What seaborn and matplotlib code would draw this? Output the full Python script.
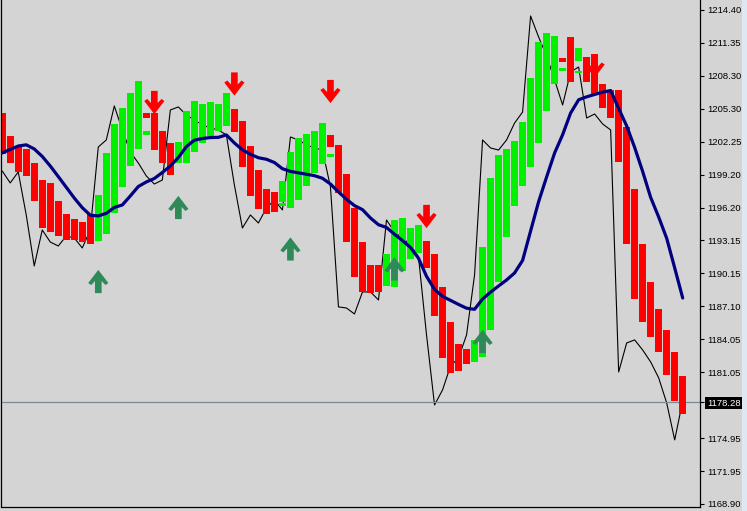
import numpy as np
import pandas as pd
import matplotlib.pyplot as plt
from matplotlib.path import Path
from matplotlib.patches import Rectangle
import seaborn as sns

# ---- data (one entry per bar) ----
ha_open = [1204.91, 1202.79, 1201.78, 1201.60, 1200.31, 1198.74, 1198.47, 1196.81, 1195.61, 1195.15,
           1194.87, 1195.61, 1193.12, 1193.77, 1195.70, 1198.10, 1200.03, 1201.60, 1204.91, 1204.91,
           1203.25, 1202.15, 1200.31, 1200.31, 1201.32, 1202.15, 1202.79, 1203.25, 1203.72, 1205.28,
           1204.18, 1201.87, 1199.66, 1197.91, 1197.64, 1196.72, 1196.16, 1196.90, 1198.19, 1199.39,
           1200.22, 1202.89, 1201.97, 1199.29, 1196.16, 1193.03, 1190.91, 1190.91, 1188.98, 1188.89,
           1190.36, 1191.47, 1192.02, 1193.12, 1191.93, 1188.89, 1185.66, 1183.64, 1183.18, 1181.98,
           1182.44, 1184.93, 1189.35, 1193.49, 1196.35, 1198.19, 1199.94, 1202.15, 1205.10, 1207.58,
           1209.98, 1211.91, 1209.70, 1210.07, 1210.35, 1207.58, 1207.03, 1207.03, 1203.62, 1197.91,
           1192.85, 1189.35, 1186.86, 1184.93, 1182.90, 1180.69]
ha_close = [1201.14, 1200.31, 1199.48, 1199.11, 1196.81, 1194.32, 1193.95, 1193.58, 1193.22, 1193.22,
            1193.03, 1192.85, 1197.36, 1201.23, 1203.90, 1205.37, 1206.75, 1207.86, 1204.45, 1201.50,
            1200.31, 1199.20, 1202.24, 1205.10, 1206.02, 1205.74, 1205.93, 1205.74, 1206.75, 1203.16,
            1199.94, 1197.27, 1196.07, 1195.61, 1195.79, 1198.65, 1201.32, 1202.61, 1202.98, 1203.25,
            1203.99, 1201.78, 1197.54, 1193.03, 1189.81, 1188.43, 1188.33, 1188.43, 1191.93, 1195.06,
            1195.24, 1194.32, 1194.60, 1190.64, 1186.22, 1182.35, 1180.97, 1181.15, 1181.80, 1184.01,
            1192.57, 1198.93, 1201.04, 1201.60, 1202.33, 1204.08, 1208.14, 1211.45, 1212.28, 1212.00,
            1209.61, 1207.77, 1210.90, 1207.77, 1206.66, 1205.37, 1204.45, 1200.40, 1192.85, 1187.78,
            1185.66, 1184.28, 1182.90, 1180.78, 1178.39, 1177.19]

# small extra green marks
doji_idx = [18, 35, 41, 70, 72]
doji_lo = [1202.89, 1196.35, 1200.86, 1208.78, 1208.55]
doji_hi = [1203.25, 1196.62, 1201.10, 1209.06, 1208.78]

close_line = [1199.57, 1198.47, 1199.48, 1195.52, 1190.82, 1194.14, 1193.03, 1192.66, 1193.58, 1193.40,
              1192.48, 1194.14, 1201.78, 1202.43, 1205.56, 1203.35, 1201.32, 1200.31, 1199.11, 1198.37,
              1198.74, 1205.19, 1205.47, 1204.73, 1204.27, 1203.81, 1203.53, 1203.35, 1202.89, 1198.28,
              1194.32, 1195.52, 1194.78, 1196.16, 1196.90, 1195.98, 1202.70, 1202.43, 1201.97, 1201.69,
              1201.50, 1198.10, 1187.05, 1186.95, 1186.40, 1188.43, 1188.43, 1187.69, 1195.06, 1193.95,
              1193.40, 1192.76, 1191.65, 1184.47, 1178.02, 1179.40, 1181.61, 1182.35, 1184.47, 1189.99,
              1202.43, 1201.69, 1201.50, 1202.43, 1203.99, 1205.00, 1213.85, 1211.91, 1210.16, 1207.95,
              1205.65, 1208.69, 1209.15, 1204.45, 1204.82, 1203.90, 1203.35, 1181.06, 1183.73, 1184.01,
              1183.08, 1181.98, 1180.51, 1178.20, 1174.80, 1178.39]

ma_line = [1201.23, 1201.55, 1201.87, 1201.98, 1201.60, 1200.91, 1200.03, 1199.06, 1198.07, 1197.08,
           1196.19, 1195.50, 1195.43, 1195.67, 1196.21, 1196.44, 1197.27, 1198.14, 1198.56, 1198.88,
           1199.43, 1200.03, 1200.81, 1201.81, 1202.41, 1202.56, 1202.65, 1202.67, 1202.89, 1202.15,
           1201.52, 1201.11, 1200.79, 1200.65, 1200.35, 1199.78, 1199.53, 1199.40, 1199.27, 1199.14,
           1198.90, 1198.37, 1197.64, 1196.97, 1196.38, 1196.01, 1195.24, 1194.62, 1194.37, 1193.74,
           1193.16, 1192.52, 1191.53, 1189.87, 1188.66, 1188.02, 1187.65, 1187.28, 1186.93, 1186.83,
           1187.78, 1188.41, 1188.98, 1189.53, 1190.18, 1191.33, 1194.04, 1196.74, 1199.02, 1201.23,
           1202.91, 1204.91, 1206.13, 1206.40, 1206.62, 1206.83, 1206.98, 1205.33, 1203.72, 1201.73,
           1199.52, 1197.13, 1195.33, 1193.37, 1190.64, 1187.87]

buy_idx = [12, 22, 36, 49, 60]
buy_price = [1189.39, 1196.21, 1192.39, 1190.55, 1183.87]
sell_idx = [19, 29, 41, 53, 74]
sell_price = [1205.88, 1207.58, 1206.89, 1195.38, 1209.24]

ytick_vals = [1168.90, 1171.93, 1174.97, 1181.03, 1184.07, 1187.10, 1190.13, 1193.17,
              1196.20, 1199.23, 1202.27, 1205.30, 1208.33, 1211.37, 1214.40]
ytick_labels = ["1168.90", "1171.95", "1174.95", "1181.05", "1184.05", "1187.10", "1190.15", "1193.15",
                "1196.20", "1199.20", "1202.25", "1205.30", "1208.30", "1211.35", "1214.40"]
current_price = 1178.28

# ---- figure ----
sns.set_style("white")
plt.rcParams['font.family'] = ['Liberation Sans', 'DejaVu Sans']
bg = "#d4d4d4"

df = pd.DataFrame({"bar": np.arange(len(ha_open)), "open": ha_open, "close": ha_close,
                   "price": close_line, "ma": ma_line})
df["lo"] = df[["open", "close"]].min(axis=1)
df["hi"] = df[["open", "close"]].max(axis=1)
df["col"] = np.where(df["close"] > df["open"], "#00f000", "#ff0000")

fig = plt.figure(figsize=(7.47, 5.11), dpi=100, facecolor=bg)
ax = fig.add_axes([1.5 / 747, 4 / 511, 698.5 / 747, 507 / 511])
ax.set_facecolor(bg)

# thin price line (behind the bodies)
sns.lineplot(data=df, x="bar", y="price", color="black", lw=0.8, ax=ax, zorder=1)

# current price line
ax.axhline(current_price, color="#7a8898", lw=0.9, zorder=1)

# heiken ashi bodies
ax.bar(df["bar"], df["hi"] - df["lo"], bottom=df["lo"], width=0.84,
       color=df["col"], linewidth=0, zorder=2)
ax.bar(doji_idx, np.array(doji_hi) - np.array(doji_lo), bottom=doji_lo, width=0.84,
       color="#00f000", linewidth=0, zorder=2)

# moving average
sns.lineplot(data=df, x="bar", y="ma", color="#000080", lw=2.3, ax=ax, zorder=3)

# arrow markers
up = [(0, 11.5), (10, -1.5), (7, -3.5), (3.3, 0.5), (3.3, -11.5), (-3.3, -11.5),
      (-3.3, 0.5), (-7, -3.5), (-10, -1.5), (0, 11.5)]
up_path = Path(up)
down_path = Path([(x, -y) for x, y in up])
sns.scatterplot(x=buy_idx, y=buy_price, marker=up_path, s=280, color="#2e8b57",
                edgecolor="none", linewidth=0, ax=ax, zorder=4)
sns.scatterplot(x=sell_idx, y=sell_price, marker=down_path, s=280, color="#ff0000",
                edgecolor="none", linewidth=0, ax=ax, zorder=4)

ax.set_xlim(-0.09, 87.16)
ax.set_ylim(1168.62, 1215.32)
ax.set_xlabel("")
ax.set_ylabel("")
ax.set_xticks([])

ax.yaxis.tick_right()
ax.set_yticks(ytick_vals + [current_price])
ax.set_yticklabels(ytick_labels + ["1178.28"])
ax.tick_params(axis="y", direction="out", length=3, width=0.8, pad=2,
               labelsize=6.8, colors="black", right=True, left=False)
cur = ax.get_yticklabels()[-1]
cur.set_color("white")
cur.set_bbox(dict(boxstyle="square,pad=0.18", fc="black", ec="none"))

for side in ["left", "right", "bottom"]:
    ax.spines[side].set_color("black")
    ax.spines[side].set_linewidth(0.9)
ax.spines["top"].set_visible(False)

# window edge at the right
fig.patches.append(Rectangle((742 / 747, 0), 5 / 747, 1, transform=fig.transFigure,
                             facecolor="#dfe7f2", edgecolor="none"))

fig.savefig("out.png", dpi=100, facecolor=bg)
